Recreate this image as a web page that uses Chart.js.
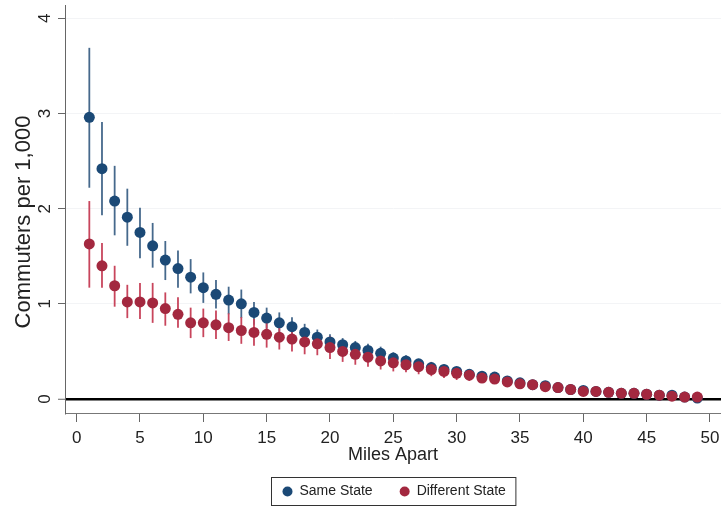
<!DOCTYPE html>
<html><head><meta charset="utf-8">
<script src="https://cdn.jsdelivr.net/npm/chart.js@4.4.1/dist/chart.umd.min.js"></script>
<style>html,body{margin:0;padding:0;background:#fff}#wrap{width:721px;height:508px}</style>
</head><body><div id="wrap"><canvas id="c" width="721" height="508"></canvas></div>
<script>
// ---------- data ----------
const miles = [1,2,3,4,5,6,7,8,9,10,11,12,13,14,15,16,17,18,19,20,21,22,23,24,25,26,27,28,29,30,31,32,33,34,35,36,37,38,39,40,41,42,43,44,45,46,47,48,49];
const sameState = [2.96,2.42,2.08,1.91,1.75,1.61,1.46,1.37,1.28,1.17,1.10,1.04,1.00,0.91,0.85,0.80,0.76,0.70,0.65,0.60,0.57,0.54,0.51,0.48,0.43,0.40,0.37,0.33,0.31,0.29,0.26,0.24,0.23,0.19,0.17,0.15,0.14,0.12,0.10,0.09,0.08,0.07,0.06,0.06,0.05,0.04,0.04,0.02,0.01];
const sameLo = [2.22,1.93,1.72,1.61,1.48,1.38,1.25,1.17,1.11,1.01,0.95,0.89,0.85,0.78,0.74,0.70,0.66,0.61,0.57,0.53,0.50,0.47,0.45,0.42,0.37,0.35,0.32,0.29,0.27,0.25,0.22,0.20,0.19,0.16,0.14,0.12,0.11,0.09,0.08,0.07,0.06,0.05,0.04,0.04,0.03,0.02,0.02,0.00,0.00];
const sameHi = [3.69,2.91,2.45,2.21,2.01,1.85,1.66,1.56,1.47,1.33,1.25,1.18,1.15,1.02,0.96,0.91,0.86,0.79,0.73,0.68,0.64,0.61,0.58,0.55,0.49,0.46,0.42,0.38,0.35,0.33,0.30,0.28,0.27,0.22,0.20,0.18,0.17,0.15,0.12,0.11,0.10,0.09,0.08,0.08,0.07,0.06,0.06,0.04,0.03];
const diffState = [1.63,1.40,1.19,1.02,1.02,1.01,0.95,0.89,0.80,0.80,0.78,0.75,0.72,0.70,0.68,0.65,0.63,0.60,0.58,0.54,0.50,0.47,0.44,0.40,0.38,0.36,0.34,0.31,0.29,0.27,0.25,0.22,0.21,0.18,0.16,0.15,0.13,0.12,0.10,0.08,0.08,0.07,0.06,0.06,0.05,0.04,0.03,0.02,0.02];
const diffLo = [1.17,1.17,0.97,0.85,0.84,0.80,0.77,0.75,0.64,0.65,0.63,0.61,0.58,0.56,0.54,0.52,0.50,0.47,0.46,0.42,0.39,0.36,0.34,0.31,0.29,0.28,0.26,0.24,0.22,0.20,0.19,0.17,0.16,0.13,0.12,0.11,0.09,0.08,0.07,0.05,0.05,0.04,0.03,0.03,0.02,0.02,0.01,0.00,0.00];
const diffHi = [2.08,1.64,1.40,1.20,1.22,1.22,1.12,1.07,0.96,0.95,0.93,0.90,0.86,0.84,0.81,0.78,0.76,0.72,0.70,0.66,0.61,0.58,0.55,0.50,0.47,0.45,0.42,0.39,0.36,0.33,0.31,0.28,0.26,0.23,0.21,0.19,0.17,0.16,0.13,0.11,0.11,0.10,0.09,0.09,0.08,0.06,0.05,0.04,0.04];
const seriesLabels = ['Same State','Different State'];
const xTickValues = [0,5,10,15,20,25,30,35,40,45,50];
const yTickValues = [0,1,2,3,4];
const xTitle = 'Miles Apart';
const yTitle = 'Commuters per 1,000';

// ---------- styles ----------
const FONT = "'Liberation Sans', Arial, sans-serif";
const BLUE = '#1b4976', BLUE_BAR = '#46698c';
const RED = '#a3283f', RED_BAR = '#c8455c';
const TXT = '#222';

const errorBars = {
  id: 'errorBars',
  beforeDatasetsDraw(chart) {
    const {ctx, chartArea, scales: {x, y}} = chart;
    ctx.save();
    ctx.beginPath();
    ctx.rect(chartArea.left, chartArea.top, chartArea.right - chartArea.left, chartArea.bottom - chartArea.top);
    ctx.clip();
    chart.data.datasets.forEach(ds => {
      ctx.strokeStyle = ds.errColor;
      ctx.lineWidth = 1.8;
      ds.errX.forEach((m, i) => {
        const px = x.getPixelForValue(m);
        ctx.beginPath();
        ctx.moveTo(px, y.getPixelForValue(ds.errLo[i]));
        ctx.lineTo(px, y.getPixelForValue(ds.errHi[i]));
        ctx.stroke();
      });
    });
    ctx.restore();
  }
};

const extras = {
  id: 'extras',
  afterDraw(chart) {
    const {ctx, chartArea} = chart;
    // y-axis title
    ctx.save();
    ctx.fillStyle = TXT;
    ctx.font = '22px ' + FONT;
    ctx.translate(24, (chartArea.top + chartArea.bottom) / 2 + 13);
    ctx.rotate(-Math.PI / 2);
    ctx.textAlign = 'center';
    ctx.textBaseline = 'middle';
    ctx.fillText(yTitle, 0, 0);
    ctx.restore();

    // legend box
    ctx.save();
    ctx.font = '14px ' + FONT;
    const padL = 11, padR = 10, r = 5, gapText = 7, gapItem = 27;
    const items = chart.data.datasets.slice().sort((a, b) => a.legendIndex - b.legendIndex);
    let total = padL + padR;
    items.forEach((ds, k) => {
      total += 2 * r + gapText + ctx.measureText(ds.label).width + (k < items.length - 1 ? gapItem : 0);
    });
    const cx = (chartArea.left + chartArea.right) / 2;
    const left = Math.round(cx - total / 2) + 0.5;
    const top = 477.5, h = 28;
    ctx.strokeStyle = '#333';
    ctx.lineWidth = 1;
    ctx.strokeRect(left, top, total, h);
    let xx = left + padL;
    const cy = top + h / 2;
    items.forEach(ds => {
      ctx.fillStyle = ds.backgroundColor;
      ctx.beginPath();
      ctx.arc(xx + r, cy, r, 0, Math.PI * 2);
      ctx.fill();
      xx += 2 * r + gapText;
      ctx.fillStyle = TXT;
      ctx.textAlign = 'left';
      ctx.textBaseline = 'middle';
      ctx.fillText(ds.label, xx, cy);
      xx += ctx.measureText(ds.label).width + gapItem;
    });
    ctx.restore();
  }
};

new Chart(document.getElementById('c'), {
  type: 'scatter',
  data: {
    datasets: [
      { label: seriesLabels[0], data: miles.map((m, i) => ({x: m, y: sameState[i]})),
        backgroundColor: BLUE, borderColor: BLUE, pointRadius: 5.5, borderWidth: 0, order: 1,
        errX: miles, errLo: sameLo, errHi: sameHi, errColor: BLUE_BAR, legendIndex: 0 },
      { label: seriesLabels[1], data: miles.map((m, i) => ({x: m, y: diffState[i]})),
        backgroundColor: RED, borderColor: RED, pointRadius: 5.5, borderWidth: 0, order: 0,
        errX: miles, errLo: diffLo, errHi: diffHi, errColor: RED_BAR, legendIndex: 1 }
    ]
  },
  options: {
    responsive: false, animation: false, devicePixelRatio: 1,
    layout: {autoPadding: false, padding: {top: 5, right: 0, bottom: 41, left: 0}},
    plugins: {legend: {display: false}, tooltip: {enabled: false}},
    scales: {
      x: {
        type: 'linear', min: -0.92, max: 50.87,
        afterBuildTicks: s => { s.ticks = xTickValues.map(v => ({value: v})); },
        ticks: {font: {family: FONT, size: 17}, color: TXT, padding: 6, maxRotation: 0, autoSkip: false},
        grid: {drawOnChartArea: false, tickLength: 9, tickColor: '#666', color: '#666'},
        border: {color: '#777', width: 1},
        title: {display: true, text: xTitle, font: {family: FONT, size: 18}, color: TXT, padding: {top: 0, bottom: 1}},
        afterFit: s => { s.height = 54; s.paddingLeft = 0; s.paddingRight = 0; }
      },
      y: {
        type: 'linear', min: -0.147, max: 4.14,
        afterBuildTicks: s => { s.ticks = yTickValues.map(v => ({value: v})); },
        ticks: {font: {family: FONT, size: 17}, color: TXT, padding: 8, minRotation: 90, maxRotation: 90, crossAlign: 'center'},
        grid: {
          color: c => (c.tick && c.tick.value === 0) ? '#000' : '#f3f4f6',
          lineWidth: c => (c.tick && c.tick.value === 0) ? 2.5 : 1,
          tickLength: 7, tickColor: '#666', tickWidth: 1
        },
        border: {color: '#666', width: 1},
        afterFit: s => { s.width = 65; s.paddingTop = 0; s.paddingBottom = 0; }
      }
    }
  },
  plugins: [errorBars, extras]
});
</script></body></html>
